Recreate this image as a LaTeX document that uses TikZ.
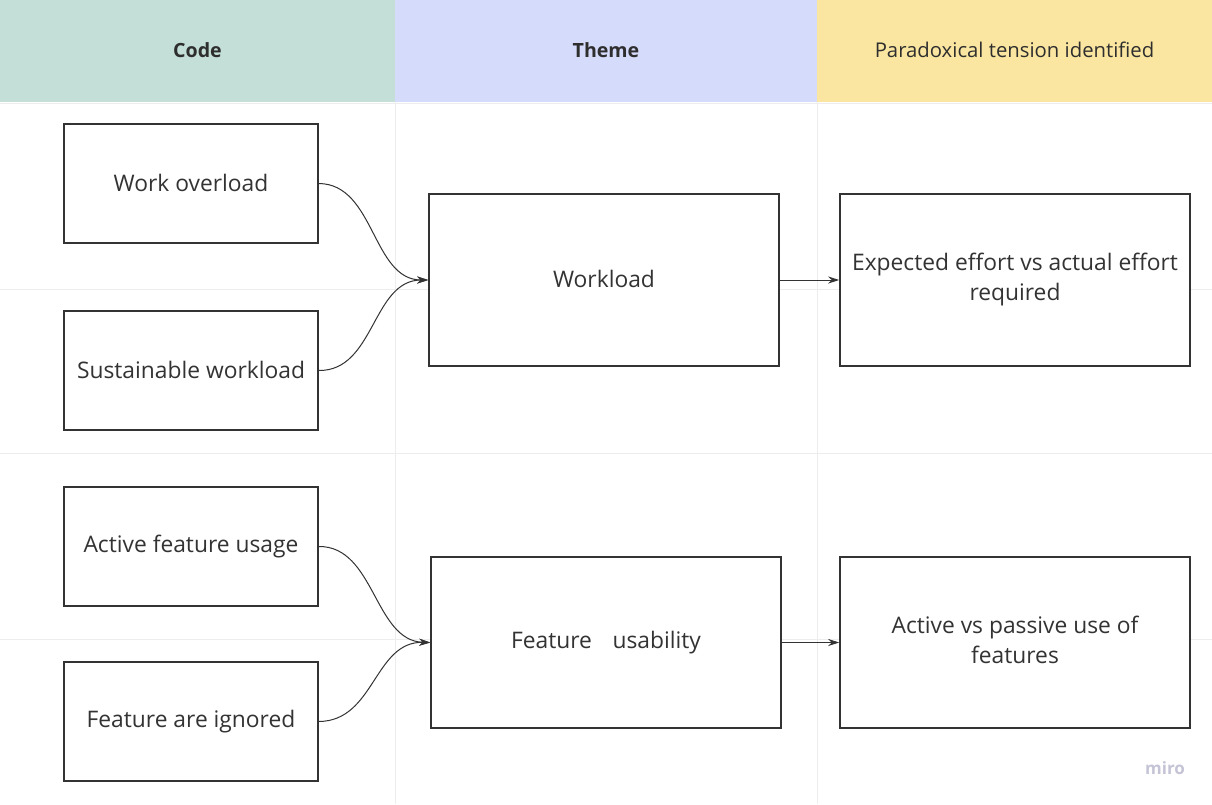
\documentclass[tikz,border=0pt]{standalone}
\usepackage{fontspec}
\setmainfont{Open Sans}
\usetikzlibrary{arrows.meta}
\definecolor{codecol}{HTML}{C3DFD7}
\definecolor{themecol}{HTML}{D5DBFB}
\definecolor{tensioncol}{HTML}{FAE6A0}
\definecolor{gridcol}{HTML}{EDEDED}
\definecolor{inkcol}{HTML}{333333}
\definecolor{logocol}{HTML}{C4C4D6}
\tikzset{
  cell/.style={draw=inkcol, line width=1.6pt, fill=white, text=inkcol,
    font=\fontsize{22.8}{30}\selectfont, align=center, inner sep=0pt},
  head/.style={text=inkcol!90!black, font=\fontsize{20.3}{24}\selectfont},
  boldhead/.style={head, font=\fontsize{19.6}{24}\selectfont\bfseries},
  link/.style={draw=inkcol, line width=1pt, -{Stealth[length=11pt,width=7pt]}},
  gridline/.style={draw=gridcol, line width=1pt}
}
\begin{document}
\begin{tikzpicture}[x=1pt,y=-1pt]
\useasboundingbox (0,0) rectangle (1212,804);
\fill[white] (0,0) rectangle (1212,804);
% table grid
\draw[gridline] (395,102) -- (395,804);
\draw[gridline] (817,102) -- (817,804);
\draw[gridline] (0,289) -- (1212,289);
\draw[gridline] (0,453) -- (1212,453);
\draw[gridline] (0,639) -- (1212,639);
\draw[gridline] (0,103) -- (1212,103);
% column headers
\fill[codecol] (0,0) rectangle (395,102);
\fill[themecol] (395,0) rectangle (817,102);
\fill[tensioncol] (817,0) rectangle (1212,102);
\node[boldhead] (hcode) at (197.5,50) {Code};
\node[boldhead] (htheme) at (606,50) {Theme};
\node[head] (htension) at (1014.5,50) {Paradoxical tension identified};
% codes
\node[cell, minimum width=254pt, minimum height=119pt] (c1) at (191,183.5) {\raisebox{2pt}{Work overload}};
\node[cell, minimum width=254pt, minimum height=119pt] (c2) at (191,370.5) {\raisebox{2pt}{Sustainable workload}};
\node[cell, minimum width=254pt, minimum height=119pt] (c3) at (191,546.5) {\raisebox{2pt}{Active feature usage}};
\node[cell, minimum width=254pt, minimum height=119pt] (c4) at (191,721.5) {\raisebox{2pt}{Feature are ignored}};
% themes
\node[cell, minimum width=350pt, minimum height=172pt] (t1) at (604,280) {\raisebox{2pt}{Workload}};
\node[cell, minimum width=350pt, minimum height=171pt] (t2) at (606,642.5) {\raisebox{2pt}{Feature\hspace{0.9em}usability}};
% tensions
\node[cell, minimum width=350pt, minimum height=172pt] (p1) at (1015,280) {Expected effort vs actual effort\\required\rule[-6pt]{0pt}{1pt}};
\node[cell, minimum width=350pt, minimum height=171pt] (p2) at (1015,642.5) {Active vs passive use of\\features\rule[-6pt]{0pt}{1pt}};
% connectors
\draw[link] (c1.east) .. controls (375,184) and (372,280) .. (t1.west);
\draw[link] (c2.east) .. controls (375,371) and (372,280) .. (t1.west);
\draw[link] (c3.east) .. controls (375,546) and (374,641) .. (t2.west);
\draw[link] (c4.east) .. controls (375,721) and (374,641) .. (t2.west);
\draw[link] (t1.east) -- (p1.west);
\draw[link] (t2.east) -- (p2.west);
% watermark
\node[text=logocol, font=\fontsize{17}{20}\selectfont\bfseries] (logo) at (1165,768) {miro};
\end{tikzpicture}
\end{document}
